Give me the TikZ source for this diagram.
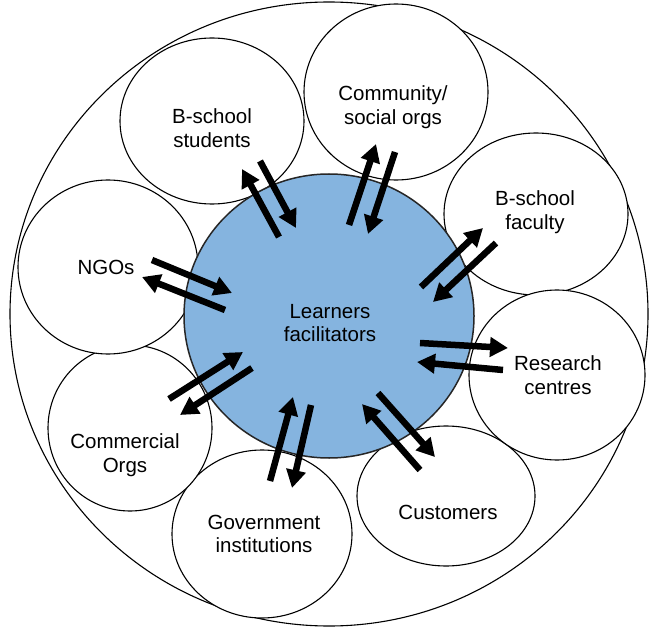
\documentclass[tikz,border=0pt]{standalone}
\usepackage{fontspec}
\setmainfont{Liberation Sans}
\usetikzlibrary{arrows.meta,shapes.geometric}
\definecolor{hubblue}{RGB}{133,180,223}
\begin{document}
\begin{tikzpicture}[x=1pt,y=-1pt,
  ring/.style={draw,ellipse,line width=1.1pt,fill=white,inner sep=0},
  lbl/.style={align=center,font=\fontsize{20.5}{23.5}\selectfont,inner sep=0},
  flow/.style={line width=6.5pt,-{Triangle[length=18pt,width=19pt]}}]
\useasboundingbox[fill=white] (0,0) rectangle (650,628);
\node[ring,minimum width=638pt,minimum height=624pt] (outer) at (329,314) {};
% outer circles
\node[ring,minimum width=184pt,minimum height=166pt] (stuC) at (212,121) {};
\node[ring,minimum width=184pt,minimum height=176pt] (comC) at (396,92) {};
\node[ring,minimum width=184pt,minimum height=162pt] (facC) at (536,214) {};
\node[ring,minimum width=178pt,minimum height=140pt] (cusC) at (446,496) {};
\node[ring,minimum width=176pt,minimum height=170pt] (resC) at (557,375) {};
\node[ring,minimum width=180pt,minimum height=168pt] (govC) at (262,534) {};
\node[ring,minimum width=164pt,minimum height=166pt] (comlC) at (130,428) {};
\node[ring,minimum width=180pt,minimum height=174pt] (ngoC) at (108,267) {};
% hub
\node[ellipse,draw=black!85,line width=1.5pt,fill=hubblue,minimum width=290pt,minimum height=284pt,inner sep=0] (hub) at (329,316) {};
% labels
\node[lbl] (stu) at (212,128) {B-school\\students};
\node[lbl] (com) at (393,107) {Community/\\social orgs};
\node[lbl] (fac) at (535,212) {B-school\\faculty};
\node[lbl] (ngo) at (106,267) {NGOs};
\node[lbl] (hubt) at (330,323) {Learners\\facilitators};
\node[lbl] (res) at (558,375) {Research\\centres};
\node[lbl] (coml) at (125,455) {Commercial\\Orgs};
\node[lbl] (cus) at (448,512) {Customers};
\node[lbl] (gov) at (264,534) {Government\\institutions};
% arrow end points
\coordinate (n1a) at (152,260); \coordinate (n1b) at (232,293);
\coordinate (n2a) at (225,310); \coordinate (n2b) at (142,277);
\coordinate (s1a) at (279,237); \coordinate (s1b) at (242,169);
\coordinate (s2a) at (260,161); \coordinate (s2b) at (296,228);
\coordinate (c1a) at (349,225); \coordinate (c1b) at (376,144);
\coordinate (c2a) at (395,152); \coordinate (c2b) at (368,234);
\coordinate (f1a) at (421,287); \coordinate (f1b) at (483,228);
\coordinate (f2a) at (496,243); \coordinate (f2b) at (433,302);
\coordinate (r1a) at (420,343); \coordinate (r1b) at (508,348);
\coordinate (r2a) at (503,370); \coordinate (r2b) at (417,362);
\coordinate (u1a) at (420,470); \coordinate (u1b) at (362,404);
\coordinate (u2a) at (378,393); \coordinate (u2b) at (435,457);
\coordinate (g1a) at (270,481); \coordinate (g1b) at (293,397);
\coordinate (g2a) at (311,405); \coordinate (g2b) at (292,488);
\coordinate (m1a) at (169,399); \coordinate (m1b) at (243,352);
\coordinate (m2a) at (252,368); \coordinate (m2b) at (180,415);
\foreach \p in {n1,n2,s1,s2,c1,c2,f1,f2,r1,r2,u1,u2,g1,g2,m1,m2}
  \draw[flow] (\p a) -- (\p b);
\end{tikzpicture}
\end{document}
